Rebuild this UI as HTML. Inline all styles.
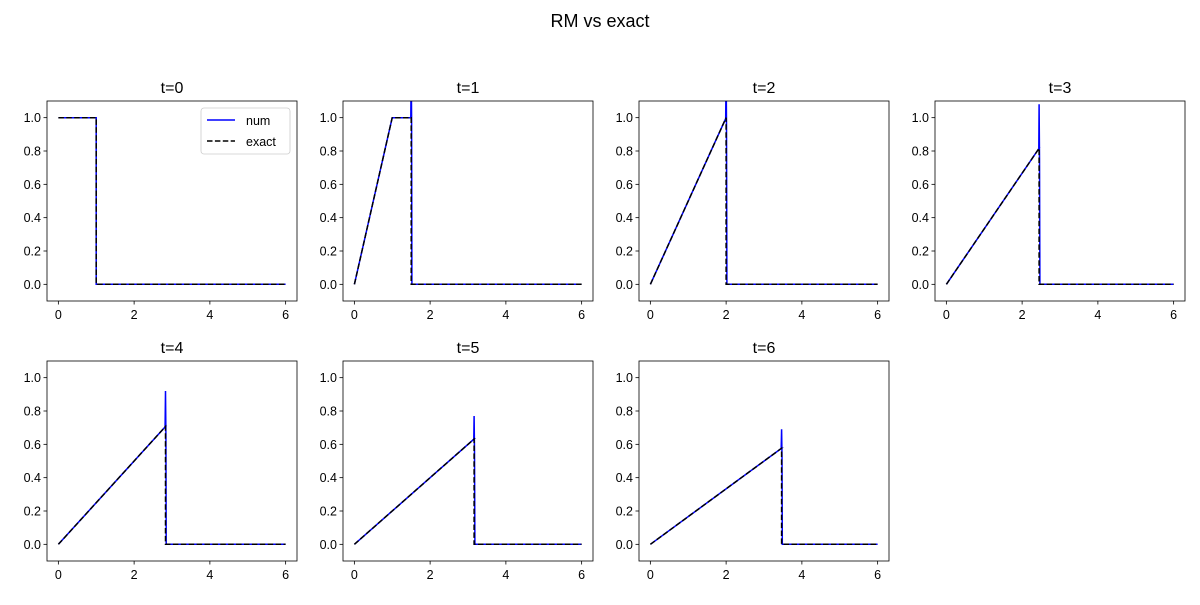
<!DOCTYPE html>
<html><head><meta charset="utf-8"><style>
body{margin:0;background:#fff;}
svg{font-family:"Liberation Sans","DejaVu Sans",sans-serif;}
</style></head><body>
<svg id="fig" width="1200" height="600" viewBox="0 0 1200 600">
<rect width="1200" height="600" fill="#fff"/>
<text x="600" y="27" text-anchor="middle" font-size="18">RM vs exact</text>
</svg>
<script>
const times=[0,1,2,3,4,5,6];
const shockPos=[1,1.5,2,2.449,2.828,3.162,3.464];
const plateauEnd=[1,1,2,2.449,2.828,3.162,3.464];
const peakExact=[1,1,1,0.816,0.707,0.632,0.577];
const spikeNum=[1,1.3,1.3,1.08,0.92,0.77,0.69];
const dipNum=[1,0.98,0.95,0.76,0.66,0.56,0.53];
const yTicks=[0,0.2,0.4,0.6,0.8,1.0];
const xTicks=[0,2,4,6];
const svg=document.getElementById('fig');
const NS='http://www.w3.org/2000/svg';
const W=250,H=200,xmin=-0.3,xmax=6.3,ymin=-0.1,ymax=1.1;
const origins=[[47,101],[343,101],[639,101],[935,101],[47,361],[343,361],[639,361]];
function mk(tag,attrs,parent){const e=document.createElementNS(NS,tag);for(const k in attrs)e.setAttribute(k,attrs[k]);parent.appendChild(e);return e;}
times.forEach((t,i)=>{
  const [ox,oy]=origins[i];
  const sx=x=>ox+(x-xmin)/(xmax-xmin)*W;
  const sy=y=>oy+H-(y-ymin)/(ymax-ymin)*H;
  const g=mk('g',{},svg);
  
  
  const clipId='c'+i;
  const cp=mk('clipPath',{id:clipId},g);mk('rect',{x:ox,y:oy,width:W,height:H},cp);
  // exact
  let ex;
  if(t===0) ex=[[0,1],[shockPos[i],1],[shockPos[i],0],[6,0]];
  else ex=[[0,0],[plateauEnd[i],peakExact[i]],[shockPos[i],peakExact[i]],[shockPos[i],0],[6,0]];
  let nu;
  if(t===0) nu=ex;
  else { const s=shockPos[i];
    nu=[[0,0],[plateauEnd[i],peakExact[i]],[s-0.01,peakExact[i]],[s,spikeNum[i]],[s+0.01,dipNum[i]],[s+0.02,0],[6,0]]; }
  const path=pts=>pts.map((p,j)=>(j?'L':'M')+sx(p[0]).toFixed(1)+' '+sy(p[1]).toFixed(1)).join(' ');
  const ln=mk('path',{d:path(nu),fill:'none',stroke:'#0000ff','stroke-width':1.5,'clip-path':'url(#'+clipId+')'},g);
  
  
  const le=mk('path',{d:path(ex),fill:'none',stroke:'#000','stroke-width':1.5,'stroke-dasharray':'5.5,2.4','clip-path':'url(#'+clipId+')'},g);
  
  
  const fr=mk('rect',{x:ox,y:oy,width:W,height:H,fill:'none',stroke:'#000','stroke-width':0.8},g);
  
  
  yTicks.forEach(v=>{
    mk('line',{x1:ox-3.5,x2:ox,y1:sy(v),y2:sy(v),stroke:'#000','stroke-width':0.8},g);
    const tx=mk('text',{x:ox-6,y:sy(v)+4.5,'text-anchor':'end','font-size':12.5},g);tx.textContent=v.toFixed(1);
    
    
  });
  xTicks.forEach(v=>{
    mk('line',{x1:sx(v),x2:sx(v),y1:oy+H,y2:oy+H+3.5,stroke:'#000','stroke-width':0.8},g);
    const tx=mk('text',{x:sx(v),y:oy+H+18,'text-anchor':'middle','font-size':12.5},g);tx.textContent=v;
    
    
  });
  const ti=mk('text',{x:ox+W/2,y:oy-8,'text-anchor':'middle','font-size':16},g);ti.textContent='t='+t;
  
  
  if(i===0){
    const lg=mk('g',{},g);
    
    
    mk('rect',{x:201,y:108,width:89,height:46,rx:3,fill:'#fff',stroke:'#ccc','stroke-width':0.8},lg);
    mk('line',{x1:207,x2:235,y1:120,y2:120,stroke:'#0000ff','stroke-width':1.5},lg);
    const a=mk('text',{x:246,y:125,'font-size':12.5},lg);a.textContent='num';
    
    
    mk('line',{x1:207,x2:235,y1:141,y2:141,stroke:'#000','stroke-width':1.5,'stroke-dasharray':'5.5,2.4'},lg);
    const b=mk('text',{x:246,y:146,'font-size':12.5},lg);b.textContent='exact';
    
    
  }
});
</script>
</body></html>
